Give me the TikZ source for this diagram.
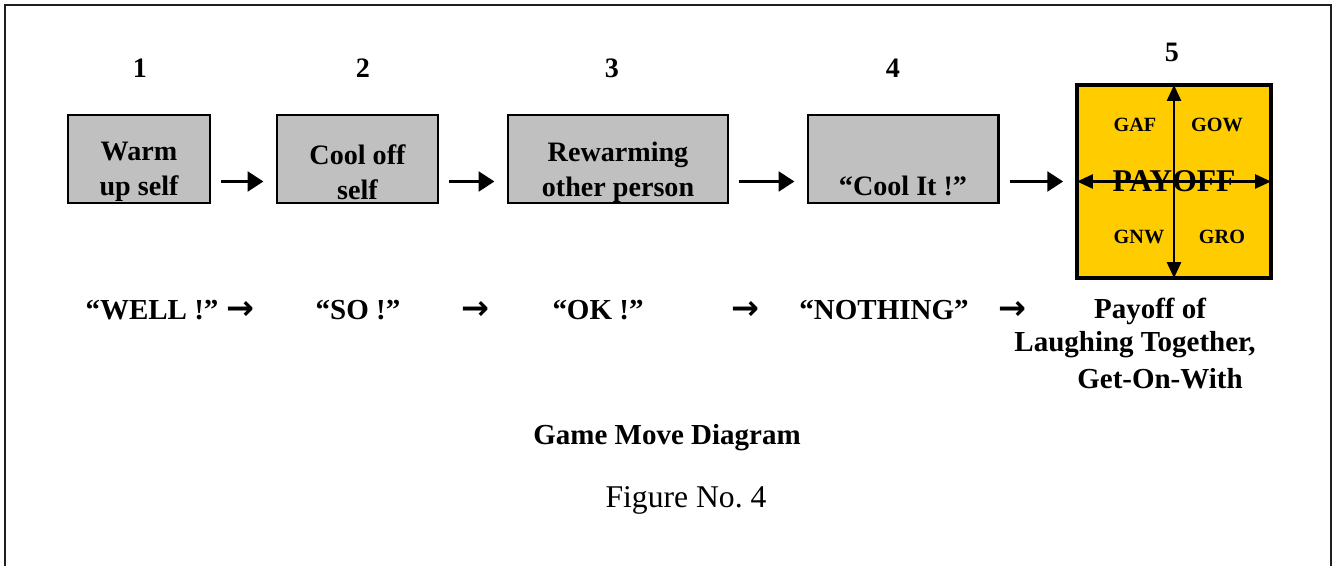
\documentclass[tikz,border=0pt]{standalone}
\usepackage{fontspec}
\setmainfont{Liberation Serif}
\newfontfamily\arrowfont{DejaVu Sans}
\usepackage{xcolor}
\definecolor{boxgray}{RGB}{192,192,192}
\definecolor{gold}{RGB}{255,204,0}
\definecolor{framegray}{RGB}{30,30,30}
\usetikzlibrary{arrows.meta,positioning,calc}

\begin{document}
\begin{tikzpicture}[
  movebox/.style={rectangle,draw,line width=1.7pt,fill=boxgray,minimum height=1.76cm,inner sep=0pt},
  paybox/.style={rectangle,draw,line width=2pt,fill=gold,minimum width=3.88cm,minimum height=3.86cm,font=\fontsize{18}{20}\selectfont\bfseries},
  boxtext/.style={align=center,font=\fontsize{16}{20}\selectfont\bfseries},
  num/.style={font=\fontsize{16}{19}\selectfont\bfseries},
  saying/.style={font=\fontsize{16.5}{19}\selectfont\bfseries},
  sayarrow/.style={font=\arrowfont\bfseries\fontsize{19}{20}\selectfont},
  quad/.style={font=\fontsize{11.5}{13}\selectfont\bfseries},
  movearrow/.style={-{Triangle[length=9pt,width=11pt]},line width=2.2pt,shorten <=0.2cm,shorten >=0.24cm},
  payaxis/.style={{Triangle[length=9pt,width=8pt]}-{Triangle[length=9pt,width=8pt]},line width=1.2pt,shorten <=1pt,shorten >=1pt}
]
  \useasboundingbox (0,0) rectangle (26.66,-11.32);
  % Frame
  \draw[framegray,line width=1.2pt] (0.1,-11.6) -- (0.1,-0.1) -- (26.62,-0.1) -- (26.62,-11.6);

  % Move numbers
  \node[num] (n1) at (2.8,-1.36) {1};
  \node[num] (n2) at (7.26,-1.36) {2};
  \node[num] (n3) at (12.24,-1.36) {3};
  \node[num] (n4) at (17.86,-1.36) {4};
  \node[num] (n5) at (23.44,-1.04) {5};

  % Move boxes
  \node[movebox,minimum width=2.84cm] (warm) at (2.78,-3.18) {};
  \node[movebox,minimum width=3.22cm] (cooloff) at (7.15,-3.18) {};
  \node[movebox,minimum width=4.4cm] (rewarm) at (12.36,-3.18) {};
  \node[movebox,minimum width=3.8cm] (coolit) at (18.06,-3.18) {};
  \node[paybox] (payoff) at (23.48,-3.63) {PAYOFF};

  \node[boxtext] (warmtxt) at ([yshift=-0.26cm]warm.center) {Warm\\up self};
  \node[boxtext] (coolofftxt) at ([yshift=-0.26cm]cooloff.center) {Cool off\\self};
  \node[boxtext] (rewarmtxt) at ([yshift=-0.26cm]rewarm.center) {Rewarming\\other person};
  \node[boxtext] (coolittxt) at ([yshift=-0.54cm]coolit.center) {“Cool It !”};

  % Payoff quadrants
  \draw[payaxis] (payoff.south) -- (payoff.north);
  \draw[payaxis] (payoff.west) -- (payoff.east);
  \node[quad] (gaf) at (22.7,-2.5) {GAF};
  \node[quad] (gow) at (24.34,-2.5) {GOW};
  \node[quad] (gnw) at (22.78,-4.74) {GNW};
  \node[quad] (gro) at (24.44,-4.74) {GRO};

  % Moves
  \draw[movearrow] (warm.east |- payoff) -- (cooloff.west |- payoff);
  \draw[movearrow] (cooloff.east |- payoff) -- (rewarm.west |- payoff);
  \draw[movearrow] (rewarm.east |- payoff) -- (coolit.west |- payoff);
  \draw[movearrow] (coolit.east |- payoff) -- (payoff.west);

  % What gets said
  \node[saying] (well) at (3.04,-6.2) {“WELL !”};
  \node[sayarrow] (s1) at (4.8,-6.2) {→};
  \node[saying] (so) at (7.16,-6.2) {“SO !”};
  \node[sayarrow] (s2) at (9.5,-6.2) {→};
  \node[saying] (ok) at (11.96,-6.2) {“OK !”};
  \node[sayarrow] (s3) at (14.9,-6.2) {→};
  \node[saying] (nothing) at (17.68,-6.2) {“NOTHING”};
  \node[sayarrow] (s4) at (20.24,-6.2) {→};
  \node[saying] (pay1) at (23.0,-6.22) {Payoff of};
  \node[saying] (pay2) at (22.7,-6.9) {Laughing Together,};
  \node[saying] (pay3) at (23.2,-7.58) {Get-On-With};

  % Caption
  \node[saying] (title) at (13.34,-8.76) {Game Move Diagram};
  \node[font=\fontsize{18}{21}\selectfont] (fig) at (13.72,-10.0) {Figure No.\ 4};
\end{tikzpicture}
\end{document}
